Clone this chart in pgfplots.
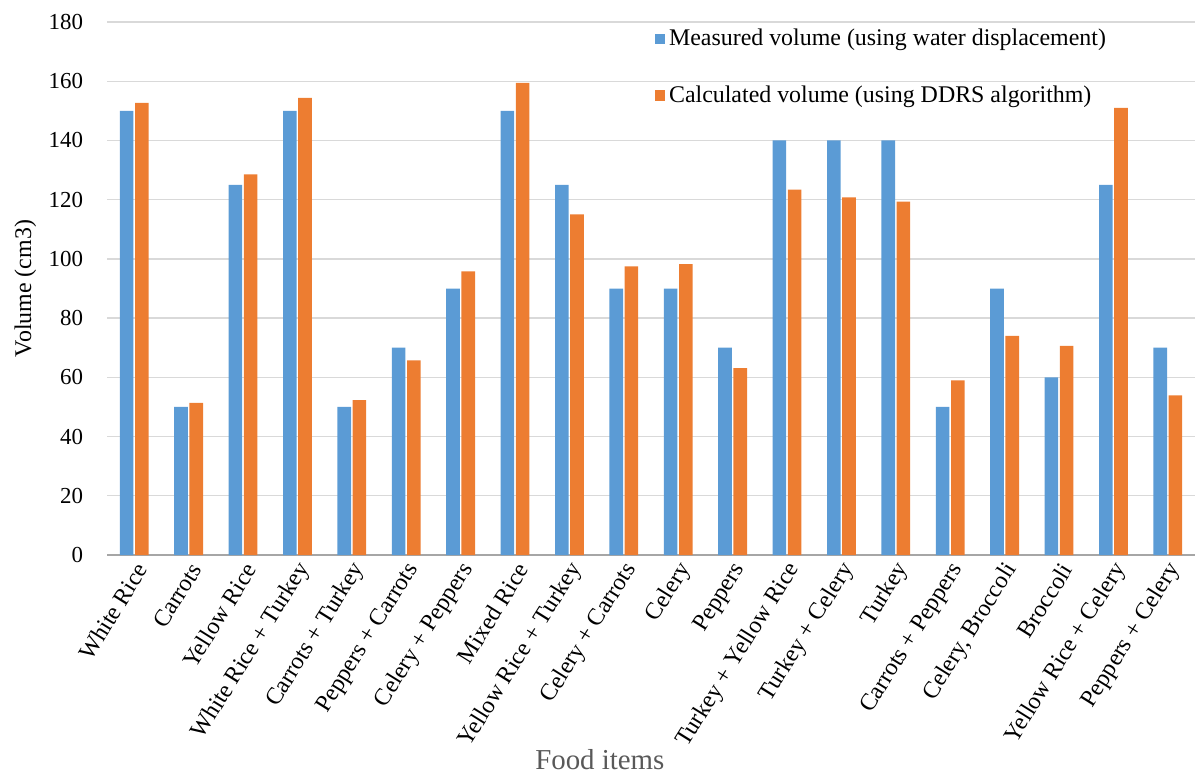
\documentclass[border=0pt]{standalone}
\usepackage{pgfplots}
\pgfplotsset{compat=1.18}
\usepackage{fontspec}
\setmainfont{Liberation Serif}

\definecolor{measured}{HTML}{5B9BD5}
\definecolor{calculated}{HTML}{ED7D31}
\definecolor{gridgray}{HTML}{D9D9D9}
\definecolor{axisgray}{HTML}{A6A6A6}
\definecolor{labelgray}{HTML}{595959}

% Volumes in cm3 for each food item (0 = White Rice ... 19 = Peppers + Celery)
\pgfplotstableread{
idx measured calculated
0  150 152.7
1  50  51.4
2  125 128.5
3  150 154.4
4  50  52.3
5  70  65.7
6  90  95.8
7  150 159.4
8  125 115.0
9  90  97.5
10 90  98.2
11 70  63.1
12 140 123.4
13 140 120.8
14 140 119.3
15 50  59.0
16 90  74.0
17 60  70.6
18 125 151.0
19 70  53.9
}\volumes

\begin{document}
\begin{tikzpicture}
\useasboundingbox (-53.5bp,-109.5bp) rectangle (544.5bp,277.5bp);
\begin{axis}[
  scale only axis,
  width=544bp, height=266.5bp,
  xmin=-0.5, xmax=19.5,
  ymin=0, ymax=180,
  ytick={0,20,...,180},
  xtick=data,
  xticklabels={White Rice, Carrots, Yellow Rice, White Rice + Turkey,
    Carrots + Turkey, Peppers + Carrots, Celery + Peppers, Mixed Rice,
    Yellow Rice + Turkey, Celery + Carrots, Celery, Peppers,
    Turkey + Yellow Rice, Turkey + Celery, Turkey, Carrots + Peppers,
    {Celery, Broccoli}, Broccoli, Yellow Rice + Celery, Peppers + Celery},
  xticklabel style={rotate=58, anchor=east, font=\fontsize{12}{14}\selectfont, xshift=1bp, yshift=-6bp},
  yticklabel style={font=\fontsize{11.5}{14}\selectfont, xshift=-8.5bp},
  /pgf/number format/assume math mode=true,
  major tick length=0pt,
  ymajorgrids,
  grid style={gridgray, line width=0.7bp},
  axis x line*=bottom,
  axis y line*=left,
  y axis line style={draw=none},
  x axis line style={axisgray, line width=1bp, -},
  ylabel={Volume (cm3)},
  ylabel style={at={(axis description cs:-0.075,0.5)}, anchor=center, font=\fontsize{12}{14}\selectfont},
  xlabel={Food items},
  xlabel style={at={(axis description cs:0.453,-0.383)}, anchor=center, font=\fontsize{14.5}{17}\selectfont, text=labelgray},
  ybar, bar width=6.8bp,
  legend style={draw=none, fill=none, at={(axis description cs:0.503,0.995)}, anchor=north west,
    font=\fontsize{12}{14}\selectfont, row sep=14.5bp, inner sep=0pt,
    cells={anchor=west}},
  legend cell align=left,
  legend image code/.code={\fill[#1] (0bp,-2.6bp) rectangle (5.2bp,2.6bp);},
]
\addplot[fill=measured, draw=none, bar shift=-3.8bp] table[x=idx, y=measured] {\volumes};
\addplot[fill=calculated, draw=none, bar shift=3.8bp] table[x=idx, y=calculated] {\volumes};
\legend{Measured volume (using water displacement), Calculated volume (using DDRS algorithm)}
\end{axis}
\end{tikzpicture}
\end{document}
